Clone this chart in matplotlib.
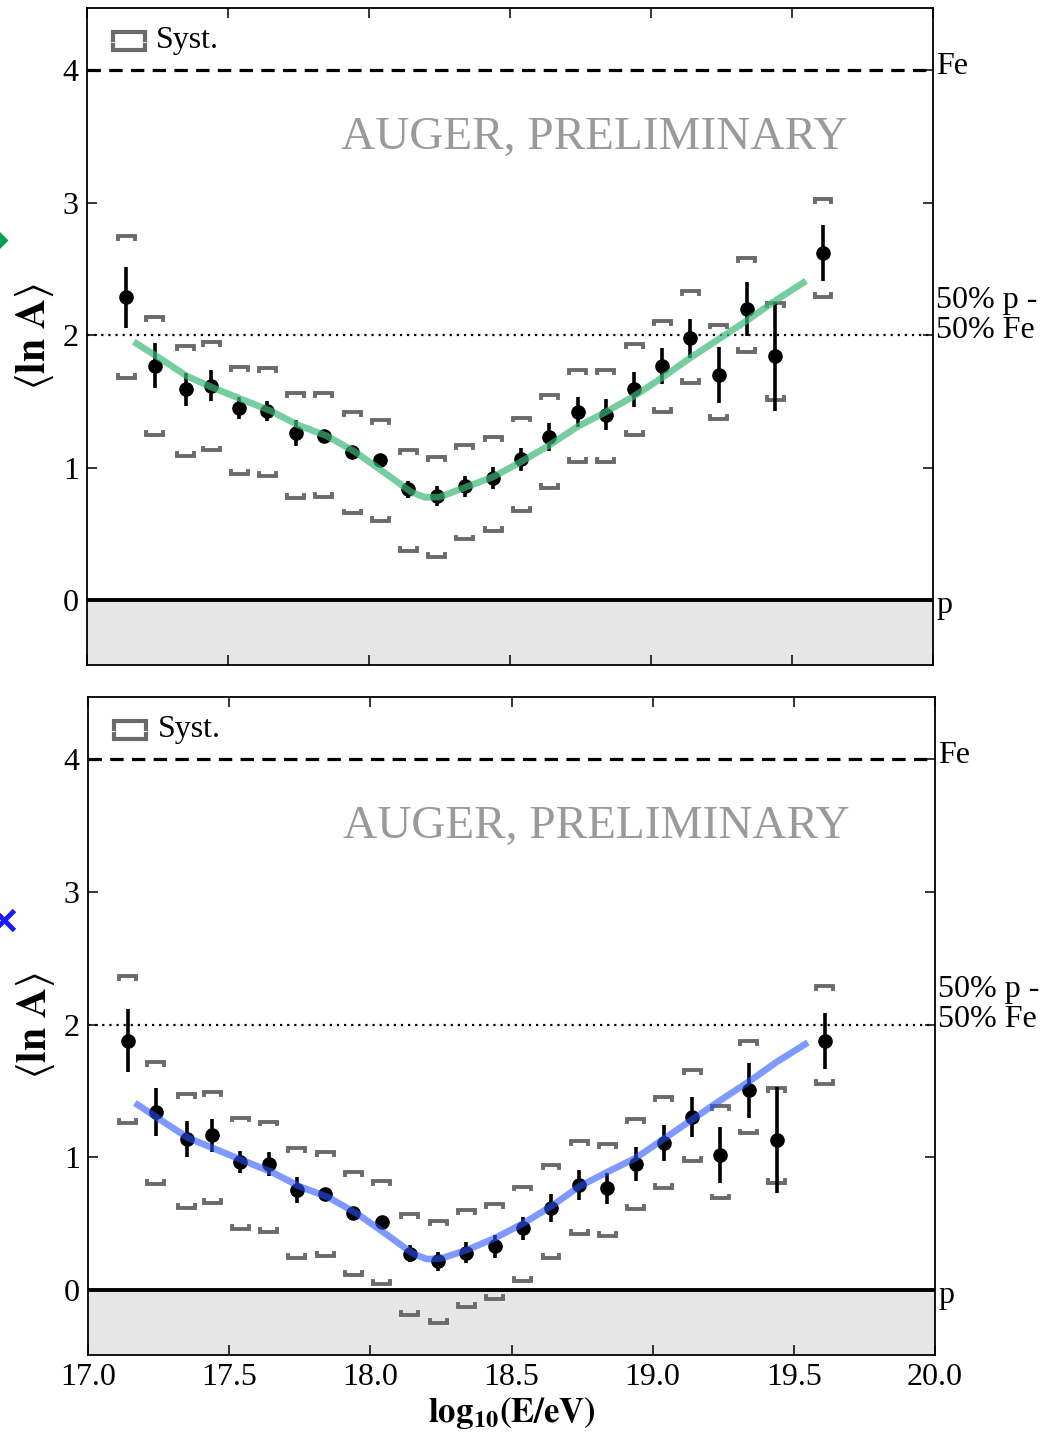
import matplotlib
matplotlib.use("Agg")
import matplotlib.pyplot as plt
import matplotlib.transforms as mtransforms

plt.rcParams['font.family'] = ['Liberation Serif', 'DejaVu Serif']
plt.rcParams['mathtext.fontset'] = 'stix'

# ---------------- data ----------------
log_e = [17.14, 17.24, 17.35, 17.44, 17.54, 17.64, 17.74, 17.84, 17.94, 18.04,
         18.14, 18.24, 18.34, 18.44, 18.54, 18.64, 18.74, 18.84, 18.94, 19.04,
         19.14, 19.24, 19.34, 19.44, 19.61]

top_lnA = [2.285, 1.77, 1.59, 1.62, 1.45, 1.43, 1.26, 1.24, 1.115, 1.055,
           0.835, 0.785, 0.86, 0.92, 1.063, 1.23, 1.42, 1.40, 1.59, 1.765,
           1.975, 1.70, 2.20, 1.84, 2.62]
top_stat = [0.23, 0.17, 0.125, 0.12, 0.08, 0.075, 0.10, 0.03, 0.03, 0.03,
            0.066, 0.075, 0.08, 0.085, 0.088, 0.108, 0.113, 0.117, 0.13, 0.135,
            0.15, 0.21, 0.205, 0.41, 0.21]
top_sys_hi = [2.745, 2.14, 1.92, 1.95, 1.76, 1.75, 1.565, 1.56, 1.42, 1.357,
              1.131, 1.08, 1.169, 1.23, 1.378, 1.546, 1.735, 1.735, 1.93, 2.11,
              2.33, 2.08, 2.58, 2.24, 3.03]
top_sys_lo = [1.675, 1.25, 1.09, 1.13, 0.95, 0.935, 0.77, 0.78, 0.654, 0.596,
              0.372, 0.327, 0.458, 0.523, 0.674, 0.85, 1.043, 1.043, 1.244, 1.42,
              1.64, 1.37, 1.87, 1.51, 2.29]

bot_lnA = [1.88, 1.34, 1.14, 1.165, 0.965, 0.95, 0.755, 0.725, 0.58, 0.51,
           0.275, 0.215, 0.28, 0.33, 0.465, 0.616, 0.793, 0.767, 0.95, 1.11,
           1.305, 1.02, 1.505, 1.13, 1.875]
bot_stat = [0.24, 0.18, 0.135, 0.125, 0.085, 0.087, 0.10, 0.03, 0.03, 0.03,
            0.065, 0.075, 0.08, 0.087, 0.085, 0.107, 0.113, 0.115, 0.13, 0.135,
            0.148, 0.212, 0.207, 0.40, 0.21]
bot_sys_hi = [2.37, 1.72, 1.48, 1.49, 1.30, 1.27, 1.07, 1.04, 0.89, 0.82,
              0.575, 0.52, 0.60, 0.65, 0.78, 0.94, 1.12, 1.10, 1.29, 1.455,
              1.66, 1.39, 1.88, 1.52, 2.29]
bot_sys_lo = [1.26, 0.80, 0.62, 0.655, 0.46, 0.435, 0.24, 0.26, 0.11, 0.045,
              -0.19, -0.25, -0.13, -0.07, 0.07, 0.24, 0.42, 0.41, 0.61, 0.77,
              0.97, 0.69, 1.18, 0.81, 1.555]

fit_x = [17.166, 17.255, 17.355, 17.45, 17.55, 17.65, 17.75, 17.85, 17.95, 18.05,
         18.15, 18.20, 18.25, 18.34, 18.44, 18.54, 18.64, 18.74, 18.84, 18.94,
         19.04, 19.14, 19.24, 19.34, 19.44, 19.55]
top_fit = [1.95, 1.83, 1.69, 1.60, 1.515, 1.43, 1.32, 1.24, 1.12, 0.97,
           0.815, 0.775, 0.778, 0.85, 0.93, 1.045, 1.17, 1.31, 1.42, 1.54,
           1.68, 1.83, 1.97, 2.11, 2.26, 2.41]
bot_fit = [1.41, 1.285, 1.146, 1.063, 0.975, 0.89, 0.78, 0.70, 0.58, 0.43,
           0.275, 0.233, 0.237, 0.30, 0.39, 0.50, 0.63, 0.78, 0.89, 0.995,
           1.14, 1.285, 1.43, 1.57, 1.72, 1.866]

x_ticks = [17.0, 17.5, 18.0, 18.5, 19.0, 19.5, 20.0]
x_ticklabels = ['17.0', '17.5', '18.0', '18.5', '19.0', '19.5', '20.0']
y_ticks = [0, 1, 2, 3, 4]

# ---------------- figure ----------------
W, H = 1043, 1437
fig = plt.figure(figsize=(W / 100, H / 100), dpi=100)

def px_axes(l, t, r, b):
    return fig.add_axes([l / W, 1 - b / H, (r - l) / W, (b - t) / H])

ax_top = px_axes(87, 8, 933, 665)
ax_bot = px_axes(88, 697, 935, 1355)

SYS_COL = '#6a6a6a'
bw = 0.03   # half width of syst bracket
bh = 0.022  # bracket end height

def draw_panel(ax, lnA, stat, s_hi, s_lo, fit, fit_col, fit_alpha, show_x):
    ax.set_xlim(17.0, 20.0)
    ax.set_ylim(-0.49, 4.47)
    ax.axhspan(-1, 0, color='#e6e6e6', zorder=0, lw=0)
    ax.axhline(0, color='k', lw=2.8, zorder=2)
    ax.axhline(4, color='k', lw=2.3, ls=(0, (4.2, 2.6)), zorder=2)
    ax.axhline(2, color='k', lw=1.6, ls=(0, (1, 2.2)), zorder=2)

    for x, hi, lo in zip(log_e, s_hi, s_lo):
        ax.plot([x - bw, x - bw, x + bw, x + bw], [hi - bh, hi, hi, hi - bh],
                color=SYS_COL, lw=2.8, solid_joinstyle='miter', zorder=3)
        ax.plot([x - bw, x - bw, x + bw, x + bw], [lo + bh, lo, lo, lo + bh],
                color=SYS_COL, lw=2.8, solid_joinstyle='miter', zorder=3)

    ax.errorbar(log_e, lnA, yerr=stat, fmt='o', color='k', ms=9.5,
                elinewidth=2.6, capsize=0, zorder=4)
    ax.plot(fit_x, fit, color=fit_col, lw=4.8, alpha=fit_alpha, zorder=5,
            solid_capstyle='butt')

    ax.text(18.80, 3.49, 'AUGER, PRELIMINARY', color='#9a9a9a', fontsize=34,
            ha='center', va='center', zorder=6)

    tr = mtransforms.blended_transform_factory(ax.transAxes, ax.transData)
    ax.text(1.004, 4.03, 'Fe', transform=tr, fontsize=23, ha='left', va='center')
    ax.text(1.004, -0.04, 'p', transform=tr, fontsize=23, ha='left', va='center')
    ax.text(1.004, 2.15, '50% p -\n50% Fe', transform=tr, fontsize=23,
            ha='left', va='center', linespacing=1.05)

    # legend: Syst.
    ta = ax.transAxes
    ax.plot([0.031, 0.031, 0.068, 0.068], [0.951, 0.9635, 0.9635, 0.951],
            transform=ta, color=SYS_COL, lw=3.0, solid_joinstyle='miter')
    ax.plot([0.031, 0.031, 0.068, 0.068], [0.944, 0.936, 0.936, 0.944],
            transform=ta, color=SYS_COL, lw=3.0, solid_joinstyle='miter')
    ax.text(0.082, 0.950, 'Syst.', transform=ta, fontsize=23,
            ha='left', va='center')

    ax.set_xticks(x_ticks)
    ax.set_yticks(y_ticks)
    ax.tick_params(direction='in', top=True, right=True, length=7, width=1.1,
                   labelsize=23, pad=6)
    if show_x:
        ax.set_xticklabels(x_ticklabels)
        ax.set_xlabel(r'$\mathbf{log_{10}(E/eV)}$', fontsize=25, labelpad=2)
    else:
        ax.set_xticklabels([])
    ax.set_ylabel(r'$\langle\mathbf{ln\ A}\rangle$', fontsize=30)
    ax.yaxis.set_label_coords(-0.037, 0.5)
    for s in ax.spines.values():
        s.set_linewidth(1.3)

draw_panel(ax_top, top_lnA, top_stat, top_sys_hi, top_sys_lo, top_fit,
           '#3cb878', 0.7, False)
draw_panel(ax_bot, bot_lnA, bot_stat, bot_sys_hi, bot_sys_lo, bot_fit,
           '#2a55ff', 0.6, True)

# partially visible markers at the left edge (from neighbouring legend)
ov = fig.add_axes([0, 0, 1, 1], zorder=-1)
ov.set_xlim(0, W)
ov.set_ylim(H, 0)
ov.axis('off')
ov.plot([-6], [240], marker='D', color='#00a050', ms=13, ls='none')
ov.plot([4], [920], marker='x', color='#1a1aff', ms=15, mew=3.5, ls='none')

fig.savefig('out.png', dpi=100)
